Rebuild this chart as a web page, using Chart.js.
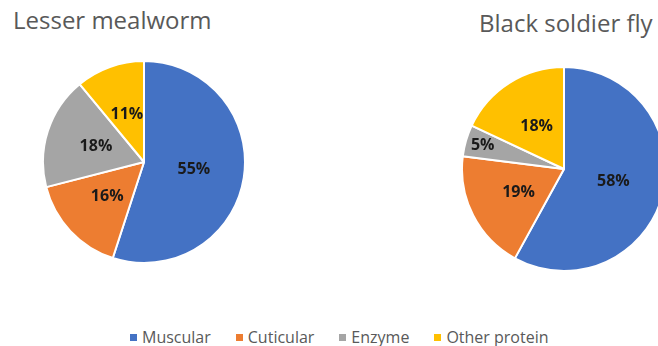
<!DOCTYPE html>
<html>
<head>
<meta charset="utf-8">
<script src="https://cdn.jsdelivr.net/npm/chart.js@4/dist/chart.umd.min.js"></script>
<style>
    html, body { margin: 0; padding: 0; width: 658px; height: 346px; overflow: hidden; background: #fff; }
    body { position: relative; font-family: "Open Sans", sans-serif; }
    .title { position: absolute; font-size: 24px; color: #595959; white-space: nowrap; line-height: 1; }
    .pie { position: absolute; }
    #legend { position: absolute; left: 130px; top: 326px; display: flex; align-items: center; font-size: 16px; color: #595959; white-space: nowrap; }
    #legend .item { display: flex; align-items: center; margin-right: 25px; }
    #legend .box { width: 7px; height: 7px; margin-right: 5px; }
</style>
</head>
<body>
<div class="title" id="title-left" style="left:13px; top:8px;"></div>
<div class="title" id="title-right" style="left:479px; top:11px;"></div>
<div class="pie" style="left:42px; top:60px; width:204px; height:204px;"><canvas id="pieLeft"></canvas></div>
<div class="pie" style="left:461px; top:66px; width:206px; height:206px;"><canvas id="pieRight"></canvas></div>
<div id="legend"></div>
<script>
const categories = ['Muscular', 'Cuticular', 'Enzyme', 'Other protein'];
const colors = ['#4472C4', '#ED7D31', '#A5A5A5', '#FFC000'];
const mealwormTitle = 'Lesser mealworm';
const mealwormValues = [55, 16, 18, 11];
const soldierFlyTitle = 'Black soldier fly';
const soldierFlyValues = [58, 19, 5, 18];

document.getElementById('title-left').textContent = mealwormTitle;
document.getElementById('title-right').textContent = soldierFlyTitle;

// percentage labels drawn on each slice
const sliceLabels = {
    id: 'sliceLabels',
    afterDatasetsDraw(chart) {
        const ctx = chart.ctx;
        const data = chart.data.datasets[0].data;
        const total = data.reduce((a, b) => a + b, 0);
        chart.getDatasetMeta(0).data.forEach((arc, i) => {
            const p = arc.getProps(['x', 'y', 'startAngle', 'endAngle', 'outerRadius']);
            const mid = (p.startAngle + p.endAngle) / 2;
            const share = data[i] / total;
            const dist = p.outerRadius * (share < 0.08 ? 0.83 : 0.5);
            ctx.save();
            ctx.font = 'bold 16px "Open Sans", sans-serif';
            ctx.fillStyle = '#1a1a1a';
            ctx.textAlign = 'center';
            ctx.textBaseline = 'middle';
            ctx.fillText(Math.round(share * 100) + '%', p.x + Math.cos(mid) * dist, p.y + Math.sin(mid) * dist);
            ctx.restore();
        });
    }
};

const makePie = (id, values) => new Chart(document.getElementById(id), {
    type: 'pie',
    data: {
        labels: categories,
        datasets: [{
            data: values,
            backgroundColor: colors,
            borderColor: '#ffffff',
            borderWidth: 2
        }]
    },
    options: {
        responsive: true,
        maintainAspectRatio: false,
        animation: false,
        layout: { padding: 0 },
        plugins: {
            legend: { display: false },
            tooltip: { enabled: false }
        }
    },
    plugins: [sliceLabels]
});

makePie('pieLeft', mealwormValues);
makePie('pieRight', soldierFlyValues);

const legend = document.getElementById('legend');
categories.forEach((name, i) => {
    const item = document.createElement('div');
    item.className = 'item';
    item.innerHTML = `<span class="box" style="background:${colors[i]}"></span><span>${name}</span>`;
    legend.appendChild(item);
});
</script>
</body>
</html>
